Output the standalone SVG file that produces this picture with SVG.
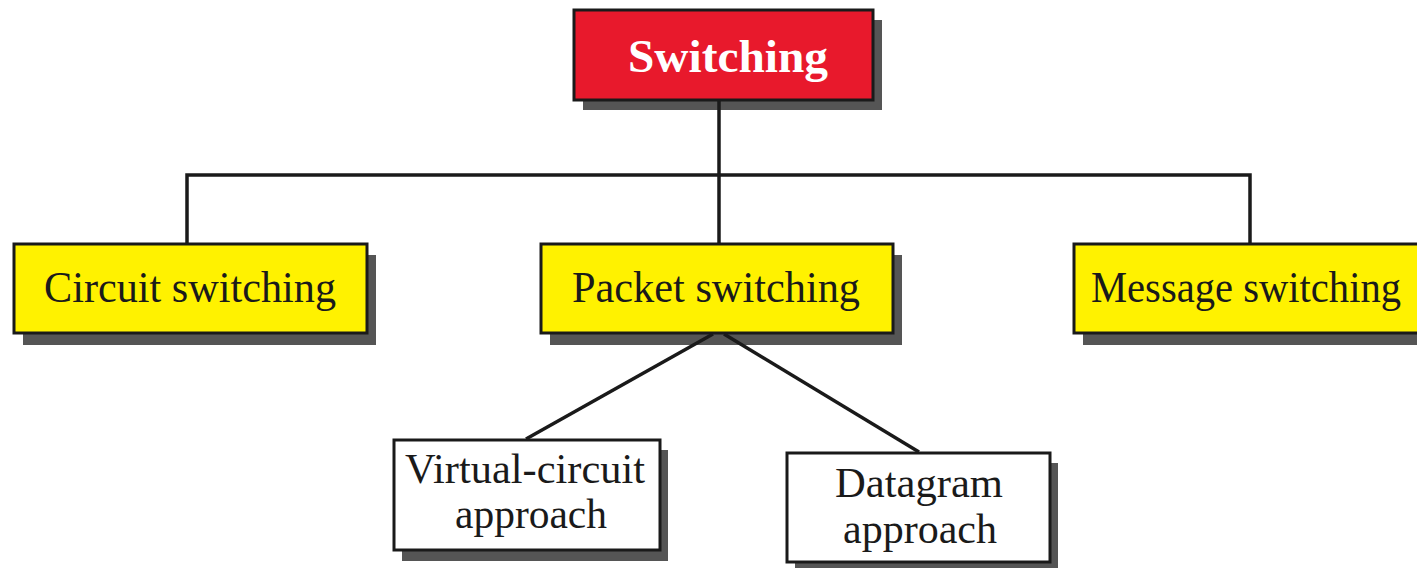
<svg xmlns="http://www.w3.org/2000/svg" width="1417" height="568" viewBox="0 0 1417 568">
<style>
.shadow{fill:#555555;}
.box{stroke:#1a1a1a;stroke-width:3;}
.red{fill:#e8192c;}
.yellow{fill:#fff200;}
.white{fill:#ffffff;}
.conn{stroke:#1a1a1a;stroke-width:3.5;fill:none;}
text{font-family:"Liberation Serif","Times New Roman",serif;fill:#1a1a1a;text-anchor:middle;}
.title{font-weight:bold;fill:#ffffff;font-size:46px;}
.lbl{font-size:45px;}
.sub{font-size:42px;}
</style>
<rect width="1417" height="568" fill="#ffffff"/>
<g id="switching">
<rect class="shadow" x="583" y="20" width="299" height="90"/>
<rect class="box red" x="574" y="10" width="299" height="90"/>
<text class="title" x="728" y="72" textLength="200" lengthAdjust="spacingAndGlyphs">Switching</text>
</g>
<g id="circuit">
<rect class="shadow" x="23" y="255" width="353" height="90"/>
<rect class="box yellow" x="14" y="244" width="353" height="89"/>
<text class="lbl" x="190" y="302" textLength="292" lengthAdjust="spacingAndGlyphs">Circuit switching</text>
</g>
<g id="packet">
<rect class="shadow" x="550" y="255" width="352" height="90"/>
<rect class="box yellow" x="541" y="244" width="352" height="89"/>
<text class="lbl" x="716" y="302" textLength="288" lengthAdjust="spacingAndGlyphs">Packet switching</text>
</g>
<g id="message">
<rect class="shadow" x="1083" y="255" width="334" height="90"/>
<rect class="box yellow" x="1074" y="244" width="345" height="89"/>
<text class="lbl" x="1246" y="302" font-size="43" textLength="310" lengthAdjust="spacingAndGlyphs">Message switching</text>
</g>
<g id="virtual">
<rect class="shadow" x="402" y="450" width="266" height="111"/>
<rect class="box white" x="394" y="440" width="266" height="110"/>
<text class="sub" x="525" y="483" textLength="240" lengthAdjust="spacingAndGlyphs">Virtual-circuit</text>
<text class="sub" x="531" y="528" textLength="152" lengthAdjust="spacingAndGlyphs">approach</text>
</g>
<g id="datagram">
<rect class="shadow" x="795" y="463" width="263" height="110"/>
<rect class="box white" x="787" y="453" width="263" height="109"/>
<text class="sub" x="919" y="497" textLength="168" lengthAdjust="spacingAndGlyphs">Datagram</text>
<text class="sub" x="920" y="543" textLength="154" lengthAdjust="spacingAndGlyphs">approach</text>
</g>
<g id="connectors">
<line class="conn" x1="719" y1="101" x2="719" y2="243"/>
<polyline class="conn" points="187,243 187,175 1250,175 1250,243"/>
<line class="conn" x1="713" y1="334" x2="526" y2="439"/>
<line class="conn" x1="724" y1="334" x2="919" y2="452"/>
</g>
</svg>
